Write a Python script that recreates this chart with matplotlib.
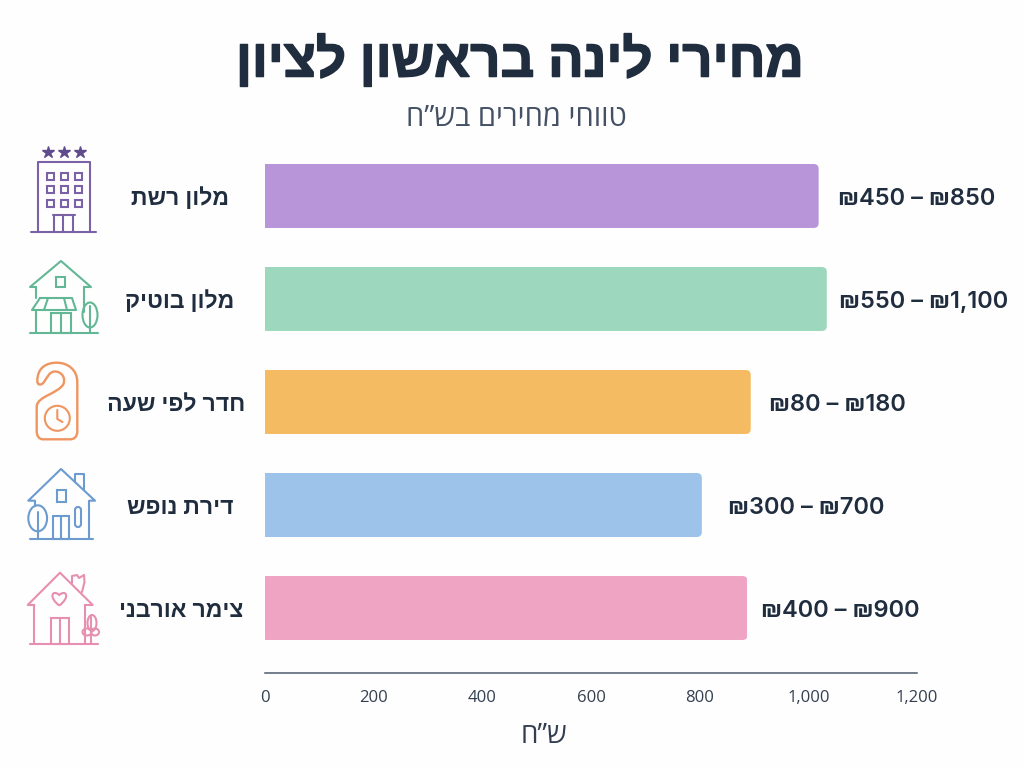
import matplotlib
matplotlib.use("Agg")
import matplotlib.pyplot as plt
import matplotlib.patheffects as pe
from matplotlib.patches import Circle, Ellipse, FancyBboxPatch, PathPatch, Rectangle
from matplotlib.path import Path
from matplotlib.transforms import IdentityTransform

title = "מחירי לינה בראשון לציון"
subtitle = "טווחי מחירים בש”ח"
axis_label = "ש”ח"
categories = ["מלון רשת", "מלון בוטיק", "חדר לפי שעה", "דירת נופש", "צימר אורבני"]
bar_values = [1019, 1034, 894, 804, 888]
price_low = [450, 550, 80, 300, 400]
price_high = [850, 1100, 180, 700, 900]
x_ticks = [0, 200, 400, 600, 800, 1000, 1200]

bar_colors = ["#b795d8", "#9dd8be", "#f4bb62", "#9dc3ea", "#f0a4c3"]
icon_colors = ["#7b62a6", "#62b795", "#ee9560", "#6c9bcf", "#e78fb0"]
DARK = "#1f2d3f"
HEB = ["Open Sans", "Liberation Sans", "DejaVu Sans"]
NUM = ["Inter", "DejaVu Sans"]


def rtl(s):
    # matplotlib has no bidi support, so Hebrew goes in as visual order
    return s[::-1]


fig = plt.figure(figsize=(10.24, 7.68), dpi=100, facecolor="#fefefe")
W, H = 1024, 768

# 0-1200 runs from x=265 to x=917 px, baseline at y=673 px
ax = fig.add_axes([265 / W, 1 - 673 / H, (917 - 265) / W, (673 - 145) / H])
ax.set_facecolor("none")
ax.set_xlim(0, 1200)
ax.set_ylim(4.631, -0.495)

bars = ax.barh(range(len(categories)), bar_values, height=0.621, color=bar_colors)
for bar in bars:
    # only the right-hand corners are rounded
    box = bar.get_window_extent()
    clip = FancyBboxPatch((box.x0 - 12, box.y0), box.width + 12, box.height,
                          boxstyle="round,pad=0,rounding_size=5",
                          transform=IdentityTransform())
    bar.set_clip_path(clip)

for s in ["top", "left", "right"]:
    ax.spines[s].set_visible(False)
ax.spines["bottom"].set_color("#4d5a6c")
ax.spines["bottom"].set_linewidth(1.1)
ax.set_yticks([])
ax.set_xticks(x_ticks)
ax.set_xticklabels([f"{t:,}" for t in x_ticks], family=HEB, fontsize=12, color="#333f50")
ax.tick_params(axis="x", length=0, pad=12)

label_gaps = [19, 12, 18, 26, 14]
name_shifts = [-85, -85, -89, -85, -84]
for i, name in enumerate(categories):
    ax.annotate(rtl(name), (0, i), xytext=(name_shifts[i], -3), textcoords="offset pixels",
                ha="center", va="center", family=HEB, fontweight="semibold",
                fontsize=16.6, color=DARK)
    text = f"₪{price_low[i]:,} – ₪{price_high[i]:,}"
    ax.annotate(text, (bar_values[i], i), xytext=(label_gaps[i], -3),
                textcoords="offset pixels", ha="left", va="center", family=NUM,
                fontweight="semibold", fontsize=17, color=DARK)

# overlay in pixel coordinates for the headings and the line icons
ov = fig.add_axes([0, 0, 1, 1], facecolor="none", zorder=3)
ov.set_xlim(0, W)
ov.set_ylim(H, 0)
ov.axis("off")

# thin outline to thicken the heading strokes
ov.text(520, 63, rtl(title), ha="center", va="center", family=HEB,
        fontweight=800, fontsize=38, color=DARK,
        path_effects=[pe.withStroke(linewidth=1.1, foreground=DARK)])
ov.text(516, 118, rtl(subtitle), ha="center", va="center", family=HEB,
        fontsize=21, color="#445164")
ov.text(544, 736, rtl(axis_label), ha="center", va="center", family=HEB,
        fontsize=20, color="#333f50")

LW = 1.5


def line(pts, c, lw=LW):
    xs, ys = zip(*pts)
    ov.plot(xs, ys, color=c, lw=lw, solid_capstyle="round", solid_joinstyle="round")


def rect(x0, y0, x1, y1, c, lw=LW):
    ov.add_patch(Rectangle((x0, y0), x1 - x0, y1 - y0, fill=False, ec=c, lw=lw))


def ell(cx, cy, w, h, c, lw=LW):
    ov.add_patch(Ellipse((cx, cy), w, h, fill=False, ec=c, lw=lw))


def heart(cx, cy, s, c):
    verts = [(cx, cy + s), (cx - s * 1.5, cy - s * 0.1), (cx - s * 0.9, cy - s * 1.2), (cx, cy - s * 0.4),
             (cx + s * 0.9, cy - s * 1.2), (cx + s * 1.5, cy - s * 0.1), (cx, cy + s)]
    codes = [Path.MOVETO, Path.CURVE4, Path.CURVE4, Path.CURVE4, Path.CURVE4, Path.CURVE4, Path.CURVE4]
    ov.add_patch(PathPatch(Path(verts, codes), fill=False, ec=c, lw=LW))


# chain hotel
c = icon_colors[0]
for x in [48, 64, 80]:
    ov.plot(x, 152, marker="*", ms=9, color="#5f4c8c", mec="#5f4c8c")
line([(38, 232), (38, 162), (90, 162), (90, 232)], c)
line([(31, 232), (96, 232)], c)
for y in [176, 189, 203]:
    for x in [50, 64, 78]:
        rect(x - 3.5, y - 3.5, x + 3.5, y + 3.5, c)
line([(53, 215), (75, 215)], c)
for x in [54, 63, 73]:
    line([(x, 215), (x, 232)], c)

# boutique hotel
c = icon_colors[1]
line([(36, 287), (30, 287), (61, 261), (91, 287), (84, 287)], c)
line([(36, 287), (36, 298)], c)
line([(84, 287), (84, 312)], c)
line([(36, 310), (36, 333)], c)
line([(30, 333), (98, 333)], c)
rect(56, 277, 65, 287, c)
line([(40, 298), (72, 298), (76, 310), (32, 310), (40, 298)], c)
line([(48, 298), (44, 310)], c)
line([(64, 298), (67, 310)], c)
rect(51, 313, 71, 333, c)
line([(61, 313), (61, 333)], c)
ell(90, 315, 15, 25, c)
line([(90, 306), (90, 333)], c)

# hourly room: door hanger with a clock
c = icon_colors[2]
verts = [(37.3, 381), (37.3, 368), (46, 362.7), (56.7, 362.7),
         (68, 362.7), (77.3, 370), (77.3, 382),
         (77.3, 431), (77.3, 431), (77.3, 431),
         (77.3, 437), (74, 439.3), (70, 439.3),
         (43, 439.3), (43, 439.3), (43, 439.3),
         (39, 439.3), (36.7, 436), (36.7, 431),
         (36.7, 407), (36.7, 407), (36.7, 407),
         (36.7, 396), (58, 394), (63.5, 384),
         (66, 376), (60, 371.5), (55, 371.5),
         (49, 371.5), (47, 378), (44, 382),
         (41, 386), (37.3, 385), (37.3, 381)]
codes = [Path.MOVETO] + [Path.CURVE4] * (len(verts) - 1)
ov.add_patch(PathPatch(Path(verts, codes), fill=False, ec=c, lw=LW + 0.2))
ov.add_patch(Circle((57.3, 418.3), 12.5, fill=False, ec=c, lw=LW))
line([(57.3, 410), (57.3, 419), (62.5, 422)], c)

# holiday apartment
c = icon_colors[3]
line([(35, 500.7), (28.3, 500.7), (61, 469), (95, 500.7), (89.3, 500.7)], c)
line([(75, 482), (75, 474), (84.3, 474), (84.3, 490)], c)
line([(35, 500.7), (35, 506)], c)
line([(89.3, 500.7), (89.3, 539.3)], c)
line([(30, 539.3), (93.3, 539.3)], c)
rect(56.7, 490, 65.7, 501.7, c)
rect(52.7, 515.7, 69.3, 539.3, c)
line([(61, 515.7), (61, 539.3)], c)
ov.add_patch(FancyBboxPatch((75, 507), 6, 20, boxstyle="round,pad=0,rounding_size=3",
                            fill=False, ec=c, lw=LW))
ell(37.7, 518.3, 18.7, 26, c)
line([(37.7, 512), (37.7, 539.3)], c)

# urban guesthouse
c = icon_colors[4]
line([(34.3, 605), (27.7, 605), (60, 572.7), (92.7, 605), (85, 605)], c)
line([(34.3, 605), (34.3, 644)], c)
line([(85, 605), (85, 644)], c)
line([(30, 644), (97.7, 644)], c)
heart(59.3, 598, 7.5, c)
line([(72, 583), (72, 576), (77, 575), (79, 578), (84, 575), (84.5, 582), (82, 592)], c)
rect(50.7, 617.7, 69.3, 644, c)
line([(60, 617.7), (60, 644)], c)
ell(92, 623, 9, 16, c)
ell(87, 632, 9, 7, c)
ell(95, 632, 8, 7, c)
line([(91, 617), (91, 644)], c)

plt.savefig("out.png", dpi=100, facecolor=fig.get_facecolor())
